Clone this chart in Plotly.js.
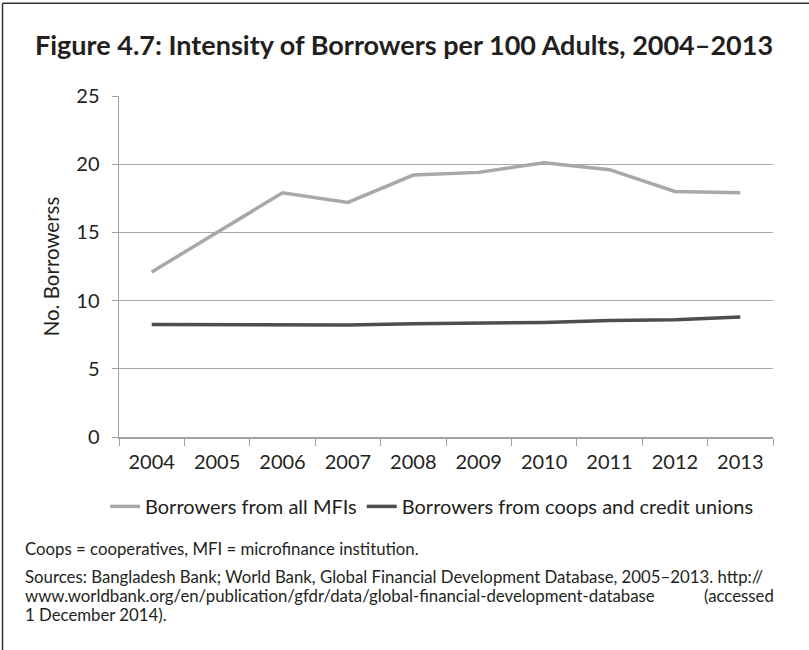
<!DOCTYPE html>
<html>
<head>
<meta charset="utf-8">
<script src="https://cdn.plot.ly/plotly-3.0.1.min.js"></script>
<style>
html,body{margin:0;padding:0;background:#fff;}
#chart{width:809px;height:650px;}
</style>
</head>
<body>
<div id="chart"></div>
<script>
const years = ["2004","2005","2006","2007","2008","2009","2010","2011","2012","2013"];
const mfiBorrowers = [12.1, 15.0, 17.9, 17.2, 19.2, 19.4, 20.1, 19.6, 18.0, 17.9];
const coopBorrowers = [8.25, 8.25, 8.2, 8.22, 8.3, 8.37, 8.4, 8.54, 8.59, 8.8];
const seriesNames = ["Borrowers from all MFIs", "Borrowers from coops and credit unions"];
const yTicks = [0, 5, 10, 15, 20, 25];

const FONT = "Lato, 'Open Sans', sans-serif";
const TXT = "#231f20";

const L = 119, R = 773, T = 96.2, B = 436.7;
const W = 809, H = 650;
const px = x => (x - L) / (R - L);
const py = y => (B - y) / (B - T);

const traces = [
  {x: years, y: mfiBorrowers, name: seriesNames[0], type: "scatter", mode: "lines",
   line: {color: "#a7a8aa", width: 3.5}},
  {x: years, y: coopBorrowers, name: seriesNames[1], type: "scatter", mode: "lines",
   line: {color: "#4d4d4f", width: 3.5}}
];

const FN = 16.8;
const layout = {
  width: W, height: H,
  paper_bgcolor: "#fff", plot_bgcolor: "#fff",
  margin: {l: L, r: W - R, t: T, b: H - B, pad: 0},
  font: {family: FONT, color: TXT, size: 20},
  showlegend: true,
  legend: {orientation: "h", x: px(432), xanchor: "center", y: py(506), yanchor: "middle",
           font: {family: FONT, size: 20, color: TXT}, itemwidth: 30, traceorder: "normal"},
  xaxis: {type: "category", range: [-0.5, 9.5], tickson: "boundaries", ticks: "outside",
          ticklen: 7, tickcolor: "#a0a0a0", tickwidth: 1, showline: true, linecolor: "#a0a0a0",
          linewidth: 1.5, showgrid: false, zeroline: false,
          tickfont: {family: FONT, size: 20, color: TXT}, ticklabelstandoff: 6, fixedrange: true},
  yaxis: {range: [0, 25], tickvals: yTicks, ticks: "outside", ticklen: 6, tickcolor: "#a0a0a0",
          showline: true, linecolor: "#a0a0a0", linewidth: 1.5, showgrid: true,
          gridcolor: "#a9a9a9", gridwidth: 1.2, zeroline: false,
          tickfont: {family: FONT, size: 20, color: TXT}, ticklabelstandoff: 8,
          title: {text: "No. Borrowerss", font: {family: FONT, size: 20.5, color: TXT}, standoff: 11}},
  shapes: [
    {type: "line", xref: "paper", yref: "paper", x0: px(2.5), x1: px(2.5), y0: py(3.5), y1: py(650), line: {color: "#333", width: 1.5}},
    {type: "line", xref: "paper", yref: "paper", x0: px(2.5), x1: px(809), y0: py(3.5), y1: py(3.5), line: {color: "#333", width: 1.5}}
  ],
  annotations: [
    {text: "<b>Figure 4.7: Intensity of Borrowers per 100 Adults, 2004–2013</b>", xref: "paper", yref: "paper",
     x: px(404), y: py(45), xanchor: "center", yanchor: "middle", showarrow: false,
     font: {family: FONT, size: 27, color: TXT}},
    {text: "Coops = cooperatives, MFI = microfinance institution.", xref: "paper", yref: "paper",
     x: px(23), y: py(548), xanchor: "left", yanchor: "middle", showarrow: false,
     font: {family: FONT, size: FN, color: TXT}},
    {text: "Sources: Bangladesh Bank; World Bank, Global Financial Development Database, 2005–2013. http://", xref: "paper", yref: "paper",
     x: px(23), y: py(576), xanchor: "left", yanchor: "middle", showarrow: false,
     font: {family: FONT, size: FN, color: TXT}},
    {text: "www.worldbank.org/en/publication/gfdr/data/global-financial-development-database", xref: "paper", yref: "paper",
     x: px(23), y: py(595), xanchor: "left", yanchor: "middle", showarrow: false,
     font: {family: FONT, size: FN, color: TXT}},
    {text: "(accessed", xref: "paper", yref: "paper",
     x: px(776), y: py(595), xanchor: "right", yanchor: "middle", showarrow: false,
     font: {family: FONT, size: FN, color: TXT}},
    {text: "1 December 2014).", xref: "paper", yref: "paper",
     x: px(23), y: py(614), xanchor: "left", yanchor: "middle", showarrow: false,
     font: {family: FONT, size: FN, color: TXT}}
  ]
};

Plotly.newPlot("chart", traces, layout, {displayModeBar: false, staticPlot: true});
</script>
</body>
</html>
